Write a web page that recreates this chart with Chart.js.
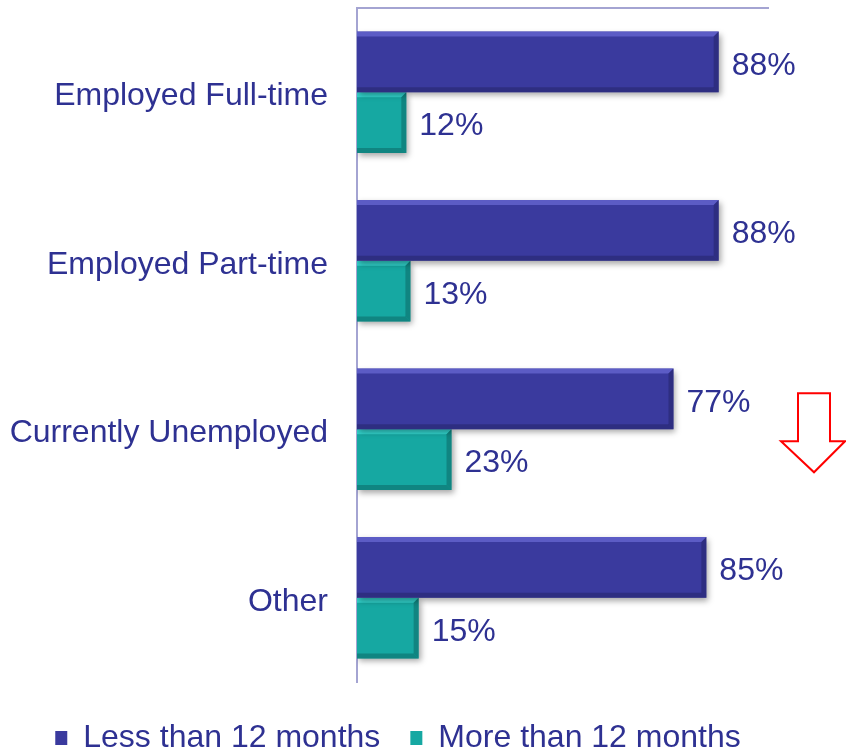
<!DOCTYPE html>
<html>
<head>
<meta charset="utf-8">
<script src="https://cdn.jsdelivr.net/npm/chart.js@4/dist/chart.umd.min.js"></script>
<style>
  html, body { margin: 0; padding: 0; background: #fff; }
  #wrap { width: 846px; height: 754px; }
</style>
</head>
<body>
<div id="wrap"><canvas id="chart"></canvas></div>
<script>
const categories = ['Employed Full-time', 'Employed Part-time', 'Currently Unemployed', 'Other'];
const lessThan12 = [88, 88, 77, 85];
const moreThan12 = [12, 13, 23, 15];
const seriesNames = ['Less than 12 months', 'More than 12 months'];

const textColor = '#2E3192';
const purple = '#3A3A9E';
const teal = '#16A8A2';
const axisColor = '#A4A4D2';
const fontFamily = '"Liberation Sans", Arial, sans-serif';

// bevel look, value labels, legend nudge, arrow
const barStyle = {
  id: 'barStyle',
  afterLayout(chart) {
    const lg = chart.legend;
    lg.left += 14; lg.right += 14;
    lg.top += 10; lg.bottom += 10;
  },
  beforeDatasetDraw(chart) {
    const ctx = chart.ctx;
    ctx.shadowColor = 'rgba(0,0,0,0.35)';
    ctx.shadowBlur = 6;
    ctx.shadowOffsetX = 2;
    ctx.shadowOffsetY = 3;
  },
  afterDatasetDraw(chart, args) {
    const ctx = chart.ctx;
    ctx.shadowColor = 'transparent';
    ctx.shadowBlur = 0;
    ctx.shadowOffsetX = 0;
    ctx.shadowOffsetY = 0;
    const light = args.index === 0 ? '#6B6BD6' : '#3FE6DE';
    const dark = args.index === 0 ? '#26266E' : '#0D6E6A';
    args.meta.data.forEach(bar => {
      const left = bar.base, right = bar.x;
      const top = bar.y - bar.height / 2, bottom = bar.y + bar.height / 2;
      const b = 5;
      ctx.save();
      ctx.fillStyle = light;
      ctx.globalAlpha = 0.7;
      ctx.beginPath();
      ctx.moveTo(left, top); ctx.lineTo(right, top); ctx.lineTo(right - b, top + b); ctx.lineTo(left, top + b);
      ctx.fill();
      ctx.fillStyle = dark;
      ctx.globalAlpha = 0.6;
      ctx.beginPath();
      ctx.moveTo(right, top); ctx.lineTo(right, bottom); ctx.lineTo(right - b, bottom - b); ctx.lineTo(right - b, top + b);
      ctx.fill();
      ctx.beginPath();
      ctx.moveTo(left, bottom); ctx.lineTo(right, bottom); ctx.lineTo(right - b, bottom - b); ctx.lineTo(left, bottom - b);
      ctx.fill();
      ctx.restore();
    });
  },
  afterDatasetsDraw(chart) {
    const ctx = chart.ctx;
    ctx.save();
    ctx.font = '32px ' + fontFamily;
    ctx.fillStyle = textColor;
    ctx.textBaseline = 'middle';
    ctx.textAlign = 'left';
    chart.data.datasets.forEach((ds, i) => {
      chart.getDatasetMeta(i).data.forEach((bar, j) => {
        ctx.fillText(ds.data[j] + '%', bar.x + 13, bar.y + 4);
      });
    });
    ctx.restore();
  },
  afterDraw(chart) {
    // red outline arrow to the right of the plot
    const ctx = chart.ctx;
    const x0 = chart.chartArea.right;
    const cy = chart.scales.y.getPixelForValue(2);
    ctx.save();
    ctx.strokeStyle = '#FF0000';
    ctx.lineWidth = 2;
    ctx.beginPath();
    ctx.moveTo(x0 + 30, cy - 36);
    ctx.lineTo(x0 + 62, cy - 36);
    ctx.lineTo(x0 + 62, cy + 12);
    ctx.lineTo(x0 + 77, cy + 12);
    ctx.lineTo(x0 + 46, cy + 43);
    ctx.lineTo(x0 + 13, cy + 12);
    ctx.lineTo(x0 + 30, cy + 12);
    ctx.closePath();
    ctx.stroke();
    ctx.restore();
  }
};

new Chart(document.getElementById('chart').getContext('2d'), {
  type: 'bar',
  data: {
    labels: categories,
    datasets: [
      { label: seriesNames[0], data: lessThan12, backgroundColor: purple, borderWidth: 0 },
      { label: seriesNames[1], data: moreThan12, backgroundColor: teal, borderWidth: 0 }
    ]
  },
  options: {
    indexAxis: 'y',
    responsive: true,
    maintainAspectRatio: false,
    animation: false,
    categoryPercentage: 0.72,
    barPercentage: 1,
    layout: { padding: { top: 0, right: 78, bottom: 0, left: 0 } },
    scales: {
      x: {
        position: 'top',
        min: 0,
        max: 100,
        ticks: { display: false },
        grid: { display: false },
        border: { color: axisColor, width: 2 },
        afterFit(scale) { scale.height = 8; }
      },
      y: {
        ticks: {
          color: textColor,
          padding: 21,
          labelOffset: 4,
          font: { family: fontFamily, size: 32 }
        },
        grid: { display: false },
        border: { color: axisColor, width: 2 },
        afterFit(scale) {
          scale.width = 357;
          scale.paddingTop = 0;
          scale.paddingBottom = 0;
        }
      }
    },
    plugins: {
      tooltip: { enabled: false },
      legend: {
        position: 'bottom',
        maxHeight: 74,
        labels: {
          color: textColor,
          boxWidth: 12,
          boxHeight: 14,
          padding: 30,
          font: { family: fontFamily, size: 32 }
        }
      }
    }
  },
  plugins: [barStyle]
});
</script>
</body>
</html>
